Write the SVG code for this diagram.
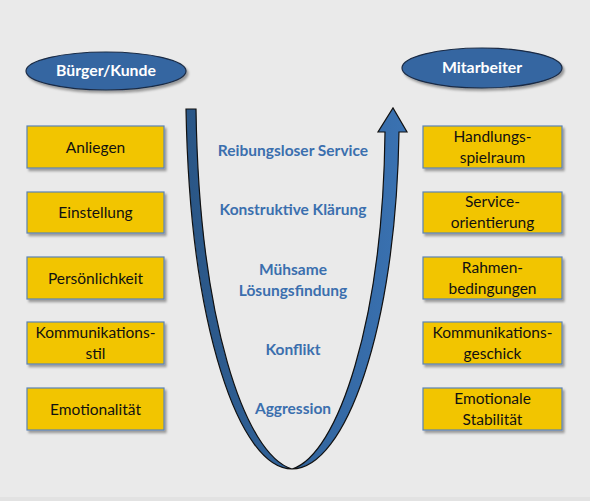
<svg xmlns="http://www.w3.org/2000/svg" width="590" height="501" viewBox="0 0 590 501">
<defs>
<linearGradient id="ug" x1="186" y1="0" x2="407" y2="0" gradientUnits="userSpaceOnUse">
<stop offset="0" stop-color="#2a5686"/>
<stop offset="1" stop-color="#3a72b2"/>
</linearGradient>
<filter id="sh" x="-10%" y="-10%" width="130%" height="140%">
<feDropShadow dx="2" dy="2.5" stdDeviation="1.2" flood-color="#000" flood-opacity="0.35"/>
</filter>
</defs>
<style>
.box{fill:#f2c500;stroke:#5b83b5;stroke-width:1.2;filter:url(#sh)}
.bt{font-family:Lato,"Liberation Sans",sans-serif;font-size:15.5px;fill:#111;text-anchor:middle}
.ell{fill:#3566a1;stroke:#1a2b45;stroke-width:1.2;filter:url(#sh)}
.et{font-family:Lato,"Liberation Sans",sans-serif;font-size:15.8px;font-weight:bold;fill:#fff;text-anchor:middle}
.mt{font-family:Lato,"Liberation Sans",sans-serif;font-size:15.5px;font-weight:bold;fill:#3b6fae;text-anchor:middle}
</style>
<rect x="0" y="0" width="590" height="501" fill="#eaeaea"/>
<rect x="0" y="497" width="590" height="4" fill="#e2e2e2"/>

<g id="connectors">
<path d="M186,109 L196,109 C199,320 245,455 292,469 C338,455 383,320 385,132 L378,132 L393,108 L407,132 L399,132 C396,330 345,469 292,469 C240,469 190,330 186,109 Z" fill="url(#ug)" stroke="#111" stroke-width="1.2" stroke-linejoin="miter"/>
</g>

<g id="buerger"><ellipse class="ell" cx="106" cy="71" rx="80" ry="19"/><text class="et" x="106" y="76">Bürger/Kunde</text></g>
<g id="mitarbeiter"><ellipse class="ell" cx="482" cy="68" rx="80" ry="20"/><text class="et" x="482" y="73">Mitarbeiter</text></g>

<g id="anliegen"><rect class="box" x="27" y="126" width="137" height="42"/><text class="bt" x="95.5" y="152.5">Anliegen</text></g>
<g id="einstellung"><rect class="box" x="27" y="192" width="137" height="41"/><text class="bt" x="95.5" y="218">Einstellung</text></g>
<g id="persoenlichkeit"><rect class="box" x="27" y="257" width="137" height="42"/><text class="bt" x="95.5" y="283.5">Persönlichkeit</text></g>
<g id="kommunikationsstil"><rect class="box" x="27" y="322" width="137" height="42"/><text class="bt" x="95.5" y="338">Kommunikations-</text><text class="bt" x="95.5" y="358.5">stil</text></g>
<g id="emotionalitaet"><rect class="box" x="27" y="388" width="137" height="42"/><text class="bt" x="95.5" y="414.5">Emotionalität</text></g>

<g id="handlungsspielraum"><rect class="box" x="423" y="126" width="139" height="42"/><text class="bt" x="492.5" y="142">Handlungs-</text><text class="bt" x="492.5" y="162.5">spielraum</text></g>
<g id="serviceorientierung"><rect class="box" x="423" y="192" width="139" height="41"/><text class="bt" x="492.5" y="207">Service-</text><text class="bt" x="492.5" y="227.5">orientierung</text></g>
<g id="rahmenbedingungen"><rect class="box" x="423" y="257" width="139" height="42"/><text class="bt" x="492.5" y="273">Rahmen-</text><text class="bt" x="492.5" y="293.5">bedingungen</text></g>
<g id="kommunikationsgeschick"><rect class="box" x="423" y="322" width="139" height="42"/><text class="bt" x="492.5" y="338">Kommunikations-</text><text class="bt" x="492.5" y="358.5">geschick</text></g>
<g id="emotionalestabilitaet"><rect class="box" x="423" y="388" width="139" height="42"/><text class="bt" x="492.5" y="404">Emotionale</text><text class="bt" x="492.5" y="424.5">Stabilität</text></g>

<g id="levels">
<text class="mt" x="293" y="156">Reibungsloser Service</text>
<text class="mt" x="293" y="215">Konstruktive Klärung</text>
<text class="mt" x="293" y="275">Mühsame</text>
<text class="mt" x="293" y="296">Lösungsfindung</text>
<text class="mt" x="293" y="355">Konflikt</text>
<text class="mt" x="293" y="414">Aggression</text>
</g>
</svg>
